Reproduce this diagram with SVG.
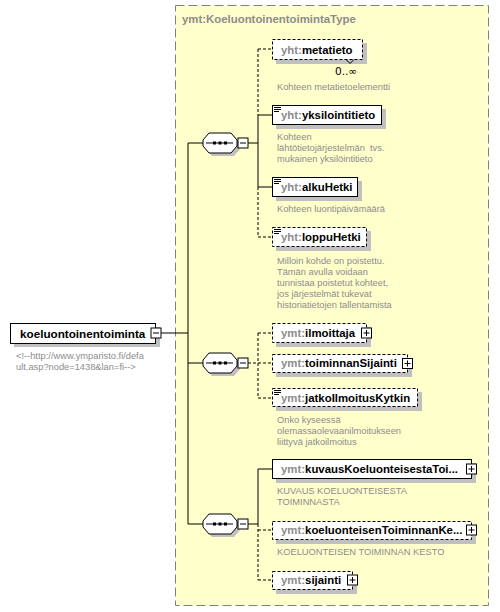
<svg xmlns="http://www.w3.org/2000/svg" xmlns:xlink="http://www.w3.org/1999/xlink" width="500" height="612" viewBox="0 0 500 612">
<style>
.lbl{font-family:"Liberation Sans",Arial,sans-serif;font-size:11.4px;font-weight:bold;fill:#000}
.pre{fill:#8c8c8c}
.desc{font-family:"Liberation Sans",Arial,sans-serif;font-size:9.3px;fill:#8c8c8c}
.box{fill:#fff;stroke:#000;stroke-width:1}
.opt{stroke-dasharray:3,2}
.sh{fill:#c0c0c0}
.ln{stroke:#000;stroke-width:1;fill:none}
.dl{stroke:#000;stroke-width:1;fill:none;stroke-dasharray:3,2}
.btn{fill:#fff;stroke:#000;stroke-width:1}
</style>
<defs>
<g id="seq">
<path class="sh" d="M206,0 L212,-7 L234,-7 L240,0 L240,6 L234,13 L212,13 L206,6 Z"/>
<path d="M203,-3 L209,-10 L231,-10 L237,-3 L237,3 L231,10 L209,10 L203,3 Z" fill="#fff" stroke="#000"/>
<line x1="206" y1="0" x2="233" y2="0" stroke="#000"/>
<rect x="213" y="-1.5" width="3" height="3" fill="#000"/>
<rect x="218.5" y="-1.5" width="3" height="3" fill="#000"/>
<rect x="224" y="-1.5" width="3" height="3" fill="#000"/>
<rect class="btn" x="238" y="-5" width="10" height="10"/>
<line x1="240" y1="0" x2="246" y2="0" stroke="#000"/>
</g>
<g id="plus">
<rect class="btn" x="-5" y="-5" width="10" height="10"/>
<line x1="-3" y1="0" x2="3" y2="0" stroke="#000"/>
<line x1="0" y1="-3" x2="0" y2="3" stroke="#000"/>
</g>
<g id="icon">
<line x1="274" y1="1.5" x2="281" y2="1.5" stroke="#000"/>
<line x1="274" y1="3.5" x2="281" y2="3.5" stroke="#000"/>
<line x1="274" y1="5.5" x2="279" y2="5.5" stroke="#000"/>
</g>
</defs>

<g id="type-box">
<rect x="175.5" y="5.5" width="313" height="600" fill="#ffffcc" stroke="#808080" stroke-dasharray="9,4"/>
<text x="182" y="23" class="lbl" style="fill:#8c8c8c">ymt:KoeluontoinentoimintaType</text>
</g>

<g id="connectors">
<line class="ln" x1="161" y1="333" x2="188" y2="333"/>
<line class="ln" x1="188" y1="143" x2="188" y2="524"/>
<line class="ln" x1="188" y1="143" x2="203" y2="143"/>
<line class="ln" x1="188" y1="363" x2="203" y2="363"/>
<line class="ln" x1="188" y1="524" x2="203" y2="524"/>
<!-- seq1 -->
<line class="ln" x1="248" y1="143" x2="258" y2="143"/>
<line class="dl" x1="258" y1="49" x2="258" y2="115"/>
<line class="ln" x1="258" y1="115" x2="258" y2="187"/>
<line class="dl" x1="258" y1="187" x2="258" y2="237"/>
<line class="dl" x1="258" y1="49" x2="272" y2="49"/>
<line class="ln" x1="258" y1="115" x2="272" y2="115"/>
<line class="ln" x1="258" y1="187" x2="272" y2="187"/>
<line class="dl" x1="258" y1="237" x2="272" y2="237"/>
<!-- seq2 -->
<line class="dl" x1="248" y1="363" x2="272" y2="363"/>
<line class="dl" x1="258" y1="333" x2="258" y2="398"/>
<line class="dl" x1="258" y1="333" x2="272" y2="333"/>
<line class="dl" x1="258" y1="398" x2="272" y2="398"/>
<!-- seq3 -->
<line class="ln" x1="248" y1="524" x2="258" y2="524"/>
<line class="ln" x1="258" y1="469" x2="258" y2="524"/>
<line class="dl" x1="258" y1="524" x2="258" y2="580"/>
<line class="ln" x1="258" y1="469" x2="272" y2="469"/>
<line class="dl" x1="258" y1="530" x2="272" y2="530"/>
<line class="dl" x1="258" y1="580" x2="272" y2="580"/>
</g>

<g id="koeluontoinentoiminta">
<rect class="sh" x="14" y="327" width="146" height="20"/>
<rect class="box" x="10.5" y="323.5" width="145" height="20"/>
<text x="20" y="338" class="lbl" style="font-size:11.7px">koeluontoinentoiminta</text>
<rect class="btn" x="151" y="328" width="10" height="10"/>
<line x1="153" y1="333" x2="159" y2="333" stroke="#000"/>
<text x="16" y="359" class="desc">&lt;!--http://www.ymparisto.fi/defa</text>
<text x="16" y="370" class="desc">ult.asp?node=1438&amp;lan=fi--&gt;</text>
</g>

<g id="sequence1"><use xlink:href="#seq" transform="translate(0,143)"/></g>
<g id="sequence2"><use xlink:href="#seq" transform="translate(0,363)"/></g>
<g id="sequence3"><use xlink:href="#seq" transform="translate(0,524)"/></g>

<g id="metatieto">
<rect class="sh" x="276" y="43" width="91" height="21"/>
<rect class="box opt" x="272.5" y="39.5" width="90" height="20"/>
<path d="M346,59.5 L350,63.5 L354,59.5" fill="none" stroke="#000"/>
<text x="335" y="75" style="font-family:'DejaVu Sans',Arial,sans-serif;font-size:10.5px;fill:#000">0..∞</text>
<text x="281" y="54" class="lbl"><tspan class="pre">yht:</tspan>metatieto</text>
<text x="277" y="90" class="desc">Kohteen metatietoelementti</text>
</g>

<g id="yksilointitieto">
<rect class="sh" x="276" y="109" width="110" height="20"/>
<rect class="box" x="272.5" y="105.5" width="109" height="19"/>
<use xlink:href="#icon" transform="translate(0,106)"/>
<text x="281" y="119" class="lbl"><tspan class="pre">yht:</tspan>yksilointitieto</text>
<text x="277" y="140" class="desc">Kohteen</text>
<text x="277" y="151" class="desc" xml:space="preserve">lähtötietojärjestelmän  tvs.</text>
<text x="277" y="162" class="desc">mukainen yksilöintitieto</text>
</g>

<g id="alkuHetki">
<rect class="sh" x="276" y="181" width="86" height="20"/>
<rect class="box" x="272.5" y="177.5" width="85" height="19"/>
<use xlink:href="#icon" transform="translate(0,178)"/>
<text x="281" y="191" class="lbl"><tspan class="pre">yht:</tspan>alkuHetki</text>
<text x="277" y="212" class="desc">Kohteen luontipäivämäärä</text>
</g>

<g id="loppuHetki">
<rect class="sh" x="276" y="231" width="95" height="20"/>
<rect class="box opt" x="272.5" y="227.5" width="94" height="19"/>
<use xlink:href="#icon" transform="translate(0,228)"/>
<text x="281" y="241" class="lbl"><tspan class="pre">yht:</tspan>loppuHetki</text>
<text x="277" y="264" class="desc">Milloin kohde on poistettu.</text>
<text x="277" y="275" class="desc">Tämän avulla voidaan</text>
<text x="277" y="286" class="desc">tunnistaa poistetut kohteet,</text>
<text x="277" y="297" class="desc">jos järjestelmät tukevat</text>
<text x="277" y="308" class="desc">historiatietojen tallentamista</text>
</g>

<g id="ilmoittaja">
<rect class="sh" x="276" y="327" width="95" height="20"/>
<rect class="box opt" x="272.5" y="323.5" width="94" height="19"/>
<text x="281" y="337" class="lbl"><tspan class="pre">ymt:</tspan>ilmoittaja</text>
<use xlink:href="#plus" transform="translate(366.5,333)"/>
</g>

<g id="toiminnanSijainti">
<rect class="sh" x="276" y="358" width="136" height="19"/>
<rect class="box opt" x="272.5" y="354.5" width="135" height="18"/>
<text x="281" y="367" class="lbl"><tspan class="pre">ymt:</tspan>toiminnanSijainti</text>
<use xlink:href="#plus" transform="translate(407.5,363.5)"/>
</g>

<g id="jatkoIlmoitusKytkin">
<rect class="sh" x="276" y="392" width="146" height="19"/>
<rect class="box opt" x="272.5" y="388.5" width="145" height="18"/>
<use xlink:href="#icon" transform="translate(0,389)"/>
<text x="281" y="402" class="lbl"><tspan class="pre">ymt:</tspan>jatkoIlmoitusKytkin</text>
<text x="277" y="423" class="desc">Onko kyseessä</text>
<text x="277" y="434" class="desc">olemassaolevaanilmoitukseen</text>
<text x="277" y="445" class="desc">liittyvä jatkoilmoitus</text>
</g>

<g id="kuvausKoeluonteisestaToiminnasta">
<rect class="sh" x="276" y="463" width="200" height="20"/>
<rect class="box" x="272.5" y="459.5" width="199" height="19"/>
<text x="281" y="473" class="lbl"><tspan class="pre">ymt:</tspan>kuvausKoeluonteisestaToi...</text>
<use xlink:href="#plus" transform="translate(471.5,469)"/>
<text x="277" y="494" class="desc">KUVAUS KOELUONTEISESTA</text>
<text x="277" y="505" class="desc">TOIMINNASTA</text>
</g>

<g id="koeluonteisenToiminnanKesto">
<rect class="sh" x="276" y="525" width="200" height="19"/>
<rect class="box opt" x="272.5" y="521.5" width="199" height="18"/>
<text x="281" y="534" class="lbl"><tspan class="pre">ymt:</tspan>koeluonteisenToiminnanKe...</text>
<use xlink:href="#plus" transform="translate(471.5,530)"/>
<text x="277" y="555" class="desc">KOELUONTEISEN TOIMINNAN KESTO</text>
</g>

<g id="sijainti">
<rect class="sh" x="276" y="575" width="81" height="19"/>
<rect class="box opt" x="272.5" y="571.5" width="80" height="18"/>
<text x="281" y="584" class="lbl"><tspan class="pre">ymt:</tspan>sijainti</text>
<use xlink:href="#plus" transform="translate(352.5,580)"/>
</g>
</svg>
